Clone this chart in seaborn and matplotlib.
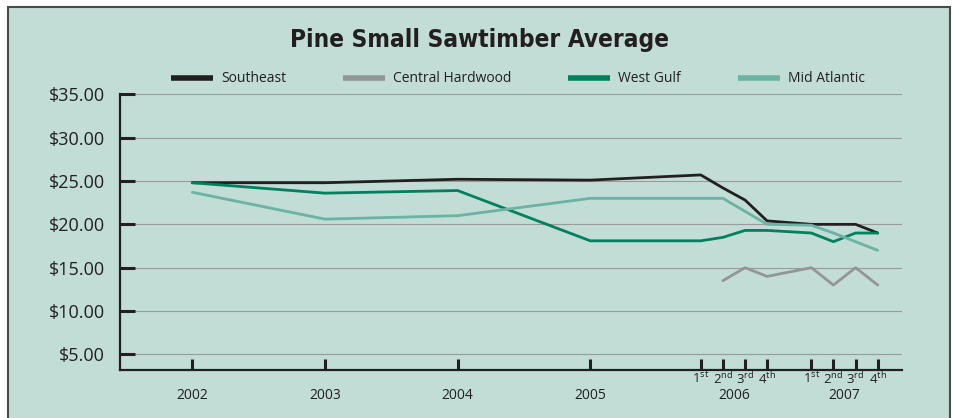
import numpy as np
import pandas as pd
import matplotlib
matplotlib.use("Agg")
import matplotlib.pyplot as plt
from matplotlib.patches import Rectangle
import seaborn as sns

# -----------------------------------------------------
# DATA ($ per ton)
# -----------------------------------------------------

periods = ["2002", "2003", "2004", "2005",
           "2006 Q1", "2006 Q2", "2006 Q3", "2006 Q4",
           "2007 Q1", "2007 Q2", "2007 Q3", "2007 Q4"]

# time position of each period, in years after 2002
period_x = [0.0, 1.0, 2.0, 3.0,
            3.833, 4.0, 4.167, 4.333,
            4.667, 4.833, 5.0, 5.167]

southeast = [24.8, 24.8, 25.2, 25.1, 25.7, 24.2, 22.8, 20.4, 20.0, 20.0, 20.0, 19.0]
central_hardwood = [np.nan, np.nan, np.nan, np.nan, np.nan, 13.5, 15.0, 14.0, 15.0, 13.0, 15.0, 13.0]
west_gulf = [24.8, 23.6, 23.9, 18.1, 18.1, 18.5, 19.3, 19.3, 19.0, 18.0, 19.0, 19.0]
mid_atlantic = [23.7, 20.6, 21.0, 23.0, 23.0, 23.0, 21.5, 20.0, 19.9, 19.0, 18.0, 17.0]

regions = ["Southeast", "Central Hardwood", "West Gulf", "Mid Atlantic"]
colors = ["#231f20", "#939598", "#00805f", "#6bb3a2"]

y_ticks = [5, 10, 15, 20, 25, 30, 35]
year_labels = ["2002", "2003", "2004", "2005", "2006", "2007"]
year_label_x = [0.0, 1.0, 2.0, 3.0, 4.083, 4.917]
quarter_labels = ["1$^{\\mathrm{st}}$", "2$^{\\mathrm{nd}}$",
                  "3$^{\\mathrm{rd}}$", "4$^{\\mathrm{th}}$"]

# -----------------------------------------------------
# LONG FORMAT TABLE FOR SEABORN
# -----------------------------------------------------

wide = pd.DataFrame({
    "x": period_x,
    "Southeast": southeast,
    "Central Hardwood": central_hardwood,
    "West Gulf": west_gulf,
    "Mid Atlantic": mid_atlantic,
})
df = wide.melt(id_vars="x", var_name="Region", value_name="Price").dropna()

# -----------------------------------------------------
# STYLE
# -----------------------------------------------------

sns.set_style("white")
plt.rcParams["font.family"] = ["Open Sans", "DejaVu Sans"]
plt.rcParams["mathtext.fontset"] = "custom"
plt.rcParams["mathtext.rm"] = "Open Sans"
plt.rcParams["mathtext.it"] = "Open Sans"

BG = "#c2ddd6"
DARK = "#231f20"

fig = plt.figure(figsize=(9.54, 4.18), dpi=100)
fig.patch.set_facecolor("white")
fig.patches.append(Rectangle((8 / 954, -0.05), 942 / 954, 1.05 - 7 / 418,
                             transform=fig.transFigure, facecolor=BG,
                             edgecolor="#4a4a4a", linewidth=1.5, zorder=-5))

ax = fig.add_axes([120 / 954, 1 - 370 / 418, 782 / 954, 275.7 / 418])
ax.set_facecolor("none")

sns.lineplot(data=df, x="x", y="Price", hue="Region", hue_order=regions,
             palette=colors, sort=False, linewidth=2.0, ax=ax, legend=True)

ax.set_xlim(-0.545, 5.35)
ax.set_ylim(3.2, 35.0)

# gridlines
ax.set_yticks(y_ticks)
ax.set_yticklabels([f"${v:.2f}" for v in y_ticks])
ax.grid(axis="y", color="#9a9a9a", linewidth=0.8)
ax.set_axisbelow(True)

for side in ["top", "right"]:
    ax.spines[side].set_visible(False)
for side in ["left", "bottom"]:
    ax.spines[side].set_color(DARK)
    ax.spines[side].set_linewidth(1.6)

ax.tick_params(axis="y", left=True, direction="in", length=11, width=2.2,
               color=DARK, pad=11, labelsize=13, labelcolor=DARK)

# x axis: tick marks at every period, quarter labels close, year labels lower
ax.set_xticks(period_x)
ax.set_xticklabels([""] * 4 + quarter_labels + quarter_labels)
ax.set_xticks(year_label_x, minor=True)
ax.set_xticklabels(year_labels, minor=True)
ax.xaxis.remove_overlapping_locs = False
ax.tick_params(axis="x", which="major", bottom=True, direction="in", length=8,
               width=2.2, color=DARK, pad=0.5, labelsize=9.5, labelcolor=DARK)
ax.tick_params(axis="x", which="minor", bottom=True, length=0, pad=13,
               labelsize=10, labelcolor=DARK)

ax.set_xlabel("")
ax.set_ylabel("")

# legend across the top
handles, labels = ax.get_legend_handles_labels()
ax.get_legend().remove()
leg = fig.legend(handles, labels, loc="center left",
                 bbox_to_anchor=(171 / 954, 1 - 79 / 418), ncol=4,
                 frameon=False, fontsize=10, handlelength=3.0,
                 handletextpad=0.6, columnspacing=4.1, borderpad=0,
                 borderaxespad=0)
for line in leg.get_lines():
    line.set_linewidth(4)
    line.set_solid_capstyle("butt")
for text in leg.get_texts():
    text.set_color(DARK)

fig.text(480 / 954, 1 - 40 / 418, "Pine Small Sawtimber Average",
         ha="center", va="center", fontsize=17.5, fontweight="bold",
         fontstretch="condensed", color=DARK, family="DejaVu Sans")

fig.savefig("out.png", dpi=100, facecolor=fig.get_facecolor())
